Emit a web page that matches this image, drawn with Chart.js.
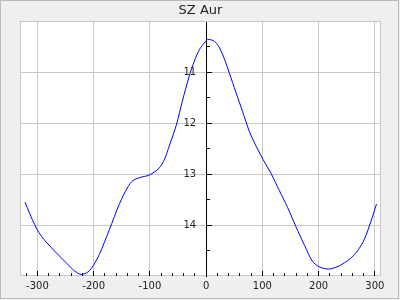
<!DOCTYPE html>
<html><head><meta charset="utf-8">
<script src="https://cdn.jsdelivr.net/npm/chart.js@4"></script>
<style>html,body{margin:0;padding:0;background:#efefef;} canvas{display:block}</style>
</head><body><canvas id="c" width="400" height="300"></canvas>
<script>
const chartTitle = 'SZ Aur';
const phase = [-322, -314, -302, -293, -284, -266, -249, -234, -222, -210, -201, -190, -172, -154, -139, -130, -118, -101, -84, -74, -65, -53, -42, -30, -21, -12, -1, 3, 15, 24, 33, 41, 53, 65, 77, 86, 101, 116, 130, 145, 160, 175, 189, 201, 213, 222, 237, 255, 269, 281, 293, 303];
const mag = [13.55, 13.77, 14.06, 14.22, 14.34, 14.55, 14.74, 14.90, 14.97, 14.92, 14.80, 14.58, 14.09, 13.58, 13.25, 13.13, 13.07, 13.02, 12.89, 12.71, 12.43, 12.04, 11.56, 11.08, 10.79, 10.56, 10.40, 10.36, 10.40, 10.53, 10.76, 11.01, 11.40, 11.78, 12.17, 12.39, 12.71, 13.00, 13.32, 13.66, 14.04, 14.40, 14.71, 14.82, 14.86, 14.86, 14.80, 14.67, 14.51, 14.29, 13.93, 13.59];
const xTicks = [-300, -200, -100, 0, 100, 200, 300];
const xMinorTicks = [-320, -280, -260, -240, -220, -180, -160, -140, -120, -80, -60, -40, -20, 20, 40, 60, 80, 120, 140, 160, 180, 220, 240, 260, 280];
const yTicks = [11, 12, 13, 14];
const yMinorTicks = [10.5, 11.5, 12.5, 13.5, 14.5];

const FONT = 'DejaVu Sans';
const align = p => Math.round(p - 0.5) + 0.5;

const framePlugin = {
  id: 'frame',
  beforeDraw(chart) {
    const c = chart.ctx, a = chart.chartArea;
    c.save();
    c.fillStyle = '#efefef';
    c.fillRect(0, 0, chart.width, chart.height);
    c.strokeStyle = '#bbbbbb';
    c.lineWidth = 1;
    c.strokeRect(0.5, 0.5, chart.width - 2, chart.height - 2);
    c.fillStyle = '#ffffff';
    c.fillRect(a.left, a.top, a.right - a.left, a.bottom - a.top);
    c.restore();
  },
  beforeDatasetsDraw(chart) {
    const c = chart.ctx, a = chart.chartArea;
    const xs = chart.scales.x, ys = chart.scales.y;
    c.save();
    c.strokeStyle = '#c8c8c8';
    c.lineWidth = 1;
    c.strokeRect(a.left + 0.5, a.top + 0.5, a.right - a.left - 1, a.bottom - a.top - 1);
    c.strokeStyle = '#000000';
    c.beginPath();
    const yb = a.bottom;
    xTicks.forEach(v => { const p = align(xs.getPixelForValue(v)); c.moveTo(p, yb); c.lineTo(p, yb - 5); });
    xMinorTicks.forEach(v => { const p = align(xs.getPixelForValue(v)); c.moveTo(p, yb); c.lineTo(p, yb - 3); });
    const x0 = align(xs.getPixelForValue(0)) - 0.5;
    yTicks.forEach(v => { const p = align(ys.getPixelForValue(v)); c.moveTo(x0, p); c.lineTo(x0 + 6, p); });
    yMinorTicks.forEach(v => { const p = align(ys.getPixelForValue(v)); c.moveTo(x0, p); c.lineTo(x0 + 4, p); });
    c.stroke();
    c.restore();
  },
  afterDatasetsDraw(chart) {
    const c = chart.ctx;
    const xs = chart.scales.x, ys = chart.scales.y;
    const x0 = xs.getPixelForValue(0);
    c.save();
    c.fillStyle = '#222222';
    c.font = '10px "' + FONT + '"';
    c.textAlign = 'right';
    c.textBaseline = 'middle';
    ys.ticks.forEach(t => {
      c.fillText(String(t.value), x0 - 10, ys.getPixelForValue(t.value));
    });
    c.restore();
  }
};

new Chart(document.getElementById('c'), {
  type: 'scatter',
  data: {
    datasets: [{
      data: phase.map((x, i) => ({ x: x, y: mag[i] })),
      showLine: true,
      borderColor: '#0000ff',
      borderWidth: 1,
      pointRadius: 0,
      tension: 0.3,
      fill: false
    }]
  },
  options: {
    responsive: false,
    animation: false,
    devicePixelRatio: 1,
    layout: { padding: { left: 20, right: 19, top: 0, bottom: 4 } },
    plugins: {
      legend: { display: false },
      tooltip: { enabled: false },
      title: {
        display: true, text: chartTitle, color: '#222222',
        font: { family: FONT, size: 13, weight: 'normal', lineHeight: 1.2 },
        padding: { top: 3, bottom: 2.4 }
      }
    },
    scales: {
      x: {
        type: 'linear', min: -331, max: 311, position: 'bottom',
        afterBuildTicks: s => { s.ticks = xTicks.map(v => ({ value: v })); },
        ticks: { color: '#222222', font: { family: FONT, size: 10 }, padding: 4, maxRotation: 0, autoSkip: false },
        grid: { color: '#c8c8c8', drawTicks: false },
        border: { display: false }
      },
      y: {
        type: 'linear', min: 10, max: 15, reverse: true, position: { x: 0 },
        afterBuildTicks: s => { s.ticks = yTicks.map(v => ({ value: v })); },
        ticks: { display: false },
        grid: { color: '#c8c8c8', drawTicks: false },
        border: { display: true, color: '#000000', width: 1 }
      }
    }
  },
  plugins: [framePlugin]
});
</script>
</body></html>
